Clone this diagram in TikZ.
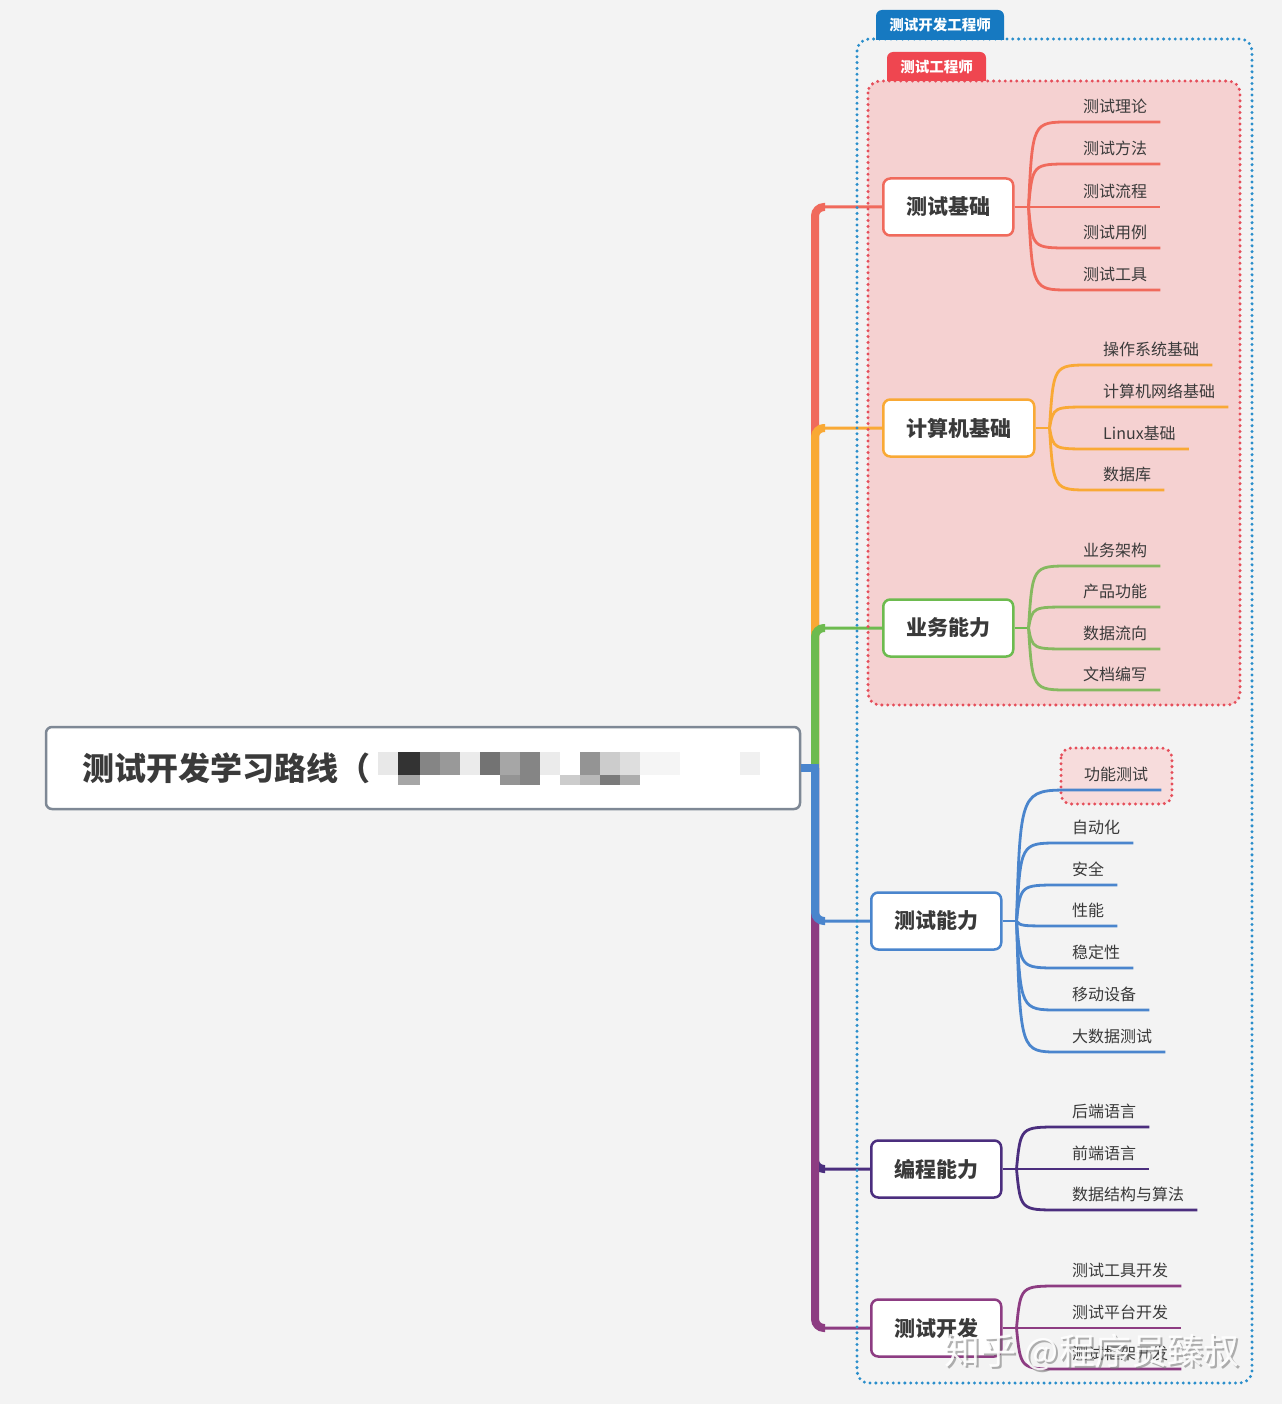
\documentclass[tikz,border=0pt]{standalone}
\usepackage{fontspec}
\newfontfamily\cjk{Noto Sans CJK SC}
\usetikzlibrary{calc}
\definecolor{bg}{HTML}{F3F3F3}
\definecolor{txt}{HTML}{3A3A3A}
\definecolor{cRed}{HTML}{F06A5C}
\definecolor{cOrange}{HTML}{F9A935}
\definecolor{cGreen}{HTML}{6DBB4F}
\definecolor{cGreenL}{HTML}{86B960}
\definecolor{cBlue}{HTML}{4A85CD}
\definecolor{cIndigo}{HTML}{4B2E7E}
\definecolor{cPurple}{HTML}{8D3C82}
\definecolor{dotBlue}{HTML}{2A8ECB}
\definecolor{tabBlue}{HTML}{1679C1}
\definecolor{tabRed}{HTML}{EF4650}
\definecolor{dotRed}{HTML}{E54E5A}
\definecolor{pinkFill}{HTML}{F5D1D1}
\definecolor{pinkHi}{HTML}{F7DCDC}
\definecolor{rootLine}{HTML}{7E8895}
\begin{document}
\begin{tikzpicture}[x=1pt,y=-1pt,
 every node/.style={inner sep=0pt},
 topic/.style={draw, line width=2.5pt, fill=white, rounded corners=7pt, font=\cjk\bfseries\fontsize{21}{25}\selectfont, text=txt, minimum height=57pt, inner xsep=23pt, anchor=west},
 leaf/.style={font=\cjk\fontsize{16}{19}\selectfont, text=txt, inner xsep=13pt, inner ysep=0pt, text height=14pt, text depth=9pt, anchor=south west},
 conn/.style={line width=3pt, rounded corners=9pt},
 trunk/.style={line width=8pt, rounded corners=9pt},
 twig/.style={line width=2.8pt},
 dotbox/.style={line width=3.3pt, dash pattern=on 0pt off 5.8pt, line cap=round, rounded corners=12pt},
 tab/.style={font=\cjk\bfseries\fontsize{14.5}{17}\selectfont, text=white}
]
% background
\fill[bg] (0,0) rectangle (1282,1404);
% pink area
\fill[pinkFill, rounded corners=12pt] (868,81) rectangle (1240,705);
% root
\node[draw=rootLine, line width=2.5pt, fill=white, rounded corners=6pt, minimum width=754pt, minimum height=82pt] (root) at (423,768) {};
\node[font=\cjk\bfseries\fontsize{32}{36}\selectfont, text=txt, anchor=west] (rootT) at (82,768) {测试开发学习路线（};
% mosaic
\fill[black!9] (378,752) rectangle +(20,23);
\fill[black!80] (398,752) rectangle +(22,23);
\fill[black!35] (398,775) rectangle +(22,10);
\fill[black!48] (420,752) rectangle +(20,23);
\fill[black!40] (440,752) rectangle +(20,23);
\fill[black!8] (460,752) rectangle +(20,23);
\fill[black!55] (480,752) rectangle +(20,23);
\fill[black!35] (500,752) rectangle +(20,23);
\fill[black!42] (500,775) rectangle +(20,10);
\fill[black!48] (520,752) rectangle +(20,23);
\fill[black!48] (520,775) rectangle +(20,10);
\fill[black!8] (540,752) rectangle +(20,23);
\fill[black!20] (560,775) rectangle +(20,10);
\fill[black!42] (580,752) rectangle +(20,23);
\fill[black!28] (580,775) rectangle +(20,10);
\fill[black!20] (600,752) rectangle +(20,23);
\fill[black!52] (600,775) rectangle +(20,10);
\fill[black!13] (620,752) rectangle +(20,23);
\fill[black!32] (620,775) rectangle +(20,10);
\fill[black!4] (640,752) rectangle +(40,23);
\fill[black!6] (740,752) rectangle +(20,23);
% trunk
\coordinate (tr) at (815,768);
% topics
\node[topic, draw=cRed] (t1) at (882,207) {测试基础};
\node[topic, draw=cOrange] (t2) at (882,428) {计算机基础};
\node[topic, draw=cGreen] (t3) at (882,628) {业务能力};
\node[topic, draw=cBlue] (t4) at (870,921) {测试能力};
\node[topic, draw=cIndigo] (t5) at (870,1169) {编程能力};
\node[topic, draw=cPurple] (t6) at (870,1328) {测试开发};
% branch connectors
\foreach \tp/\cc in {t1/cRed, t2/cOrange, t3/cGreen, t5/cIndigo, t6/cPurple, t4/cBlue} {
  \draw[conn, \cc] (root.east) -- (tr) |- (\tp.west);
  \draw[trunk, \cc] (tr) |- ($(tr |- \tp.west)+(10,0)$);
}
\draw[trunk, cBlue] (root.east) -- ([xshift=4pt]tr);
% forks
\foreach \tp/\cc/\fk in {t1/cRed/f1, t2/cOrange/f2, t3/cGreen/f3, t4/cBlue/f4, t5/cIndigo/f5, t6/cPurple/f6} {
  \coordinate (\fk) at ($(\tp.east)+(14,0)$);
  \draw[twig, \cc] (\tp.east) -- (\fk);
}
% highlight box for 功能测试
\filldraw[pinkHi, draw=dotRed, dotbox, rounded corners=10pt] (1061,748) rectangle (1172,804);
% leaves
\foreach \nm/\tx/\yy in {a1/测试理论/122, a2/测试方法/164, a3/测试流程/207, a4/测试用例/248, a5/测试工具/290} {
  \node[leaf] (\nm) at (1070,\yy) {\tx};
  \draw[twig, cRed] (f1) .. controls ($(f1 |- \nm.south west)+(4,0)$) .. (\nm.south west) -- (\nm.south east);
}
\foreach \nm/\tx/\yy in {b1/操作系统基础/365, b2/计算机网络基础/407, b3/Linux基础/449, b4/数据库/490} {
  \node[leaf] (\nm) at (1090,\yy) {\tx};
  \draw[twig, cOrange] (f2) .. controls ($(f2 |- \nm.south west)+(4,0)$) .. (\nm.south west) -- (\nm.south east);
}
\foreach \nm/\tx/\yy in {c1/业务架构/566, c2/产品功能/607, c3/数据流向/649, c4/文档编写/690} {
  \node[leaf] (\nm) at (1070,\yy) {\tx};
  \draw[twig, cGreenL] (f3) .. controls ($(f3 |- \nm.south west)+(4,0)$) .. (\nm.south west) -- (\nm.south east);
}
\node[leaf] (d1) at (1071,790) {功能测试};
\draw[twig, cBlue] (f4) .. controls ($(f4 |- d1.south west)+(4,0)$) .. (d1.south west) -- (d1.south east);
\foreach \nm/\tx/\yy in {d2/自动化/843, d3/安全/885, d4/性能/926, d5/稳定性/968, d6/移动设备/1010, d7/大数据测试/1052} {
  \node[leaf] (\nm) at (1059,\yy) {\tx};
  \draw[twig, cBlue] (f4) .. controls ($(f4 |- \nm.south west)+(4,0)$) .. (\nm.south west) -- (\nm.south east);
}
\foreach \nm/\tx/\yy in {e1/后端语言/1127, e2/前端语言/1169, e3/数据结构与算法/1210} {
  \node[leaf] (\nm) at (1059,\yy) {\tx};
  \draw[twig, cIndigo] (f5) .. controls ($(f5 |- \nm.south west)+(4,0)$) .. (\nm.south west) -- (\nm.south east);
}
\foreach \nm/\tx/\yy in {g1/测试工具开发/1286, g2/测试平台开发/1328, g3/测试框架开发/1369} {
  \node[leaf] (\nm) at (1059,\yy) {\tx};
  \draw[twig, cPurple] (f6) .. controls ($(f6 |- \nm.south west)+(4,0)$) .. (\nm.south west) -- (\nm.south east);
}
% dotted boundaries
\draw[dotbox, dotBlue] (857,39) rectangle (1252,1383);
\draw[dotbox, dotRed] (868,81) rectangle (1240,705);
% tabs
\fill[tabBlue] (876,40) [rounded corners=6pt] -- (876,10) -- (1004,10) [sharp corners] -- (1004,40) -- cycle;
\node[tab] (tabA) at (940,25) {测试开发工程师};
\fill[tabRed] (887,81) [rounded corners=6pt] -- (887,52) -- (986,52) [sharp corners] -- (986,81) -- cycle;
\node[tab] (tabB) at (936.5,67) {测试工程师};
% watermark
\node[font=\cjk\fontsize{36}{40}\selectfont, text=black!55, opacity=.55] (wmS) at (1094,1354) {知乎 @程序员臻叔};
\node[font=\cjk\fontsize{36}{40}\selectfont, text=white, opacity=.9] (wm) at (1092,1352) {知乎 @程序员臻叔};
\end{tikzpicture}
\end{document}
